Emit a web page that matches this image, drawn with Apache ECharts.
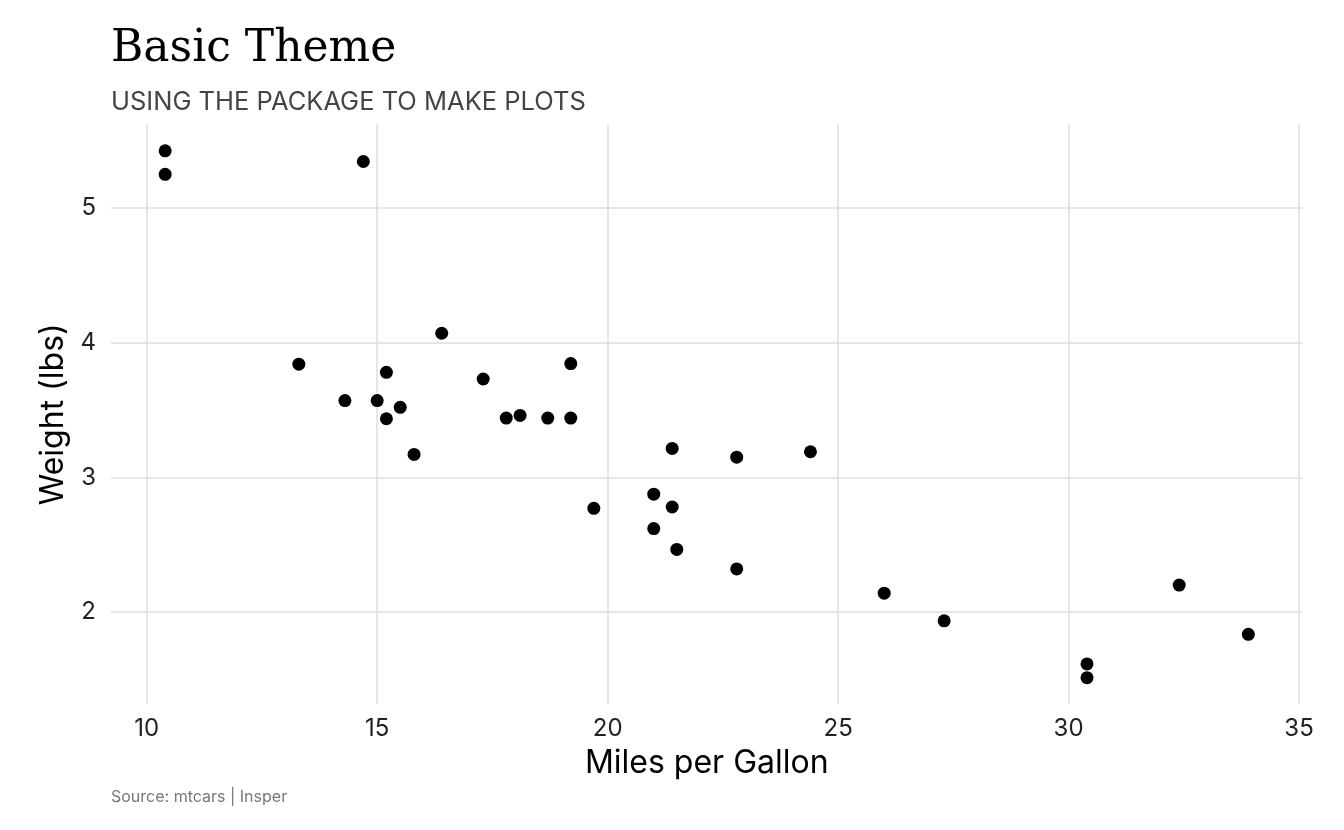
<!DOCTYPE html>
<html>
<head>
<meta charset="utf-8">
<title>Basic Theme</title>
<script src="https://cdn.jsdelivr.net/npm/echarts@6/dist/echarts.min.js"></script>
<style>
  html, body { margin: 0; padding: 0; background: #fff; }
  #chart { width: 1344px; height: 830px; }
</style>
</head>
<body>
<div id="chart"></div>
<script>
// mtcars: miles per gallon and weight (1000 lbs)
var mpg = [21.0, 21.0, 22.8, 21.4, 18.7, 18.1, 14.3, 24.4, 22.8, 19.2, 17.8,
           16.4, 17.3, 15.2, 10.4, 10.4, 14.7, 32.4, 30.4, 33.9, 21.5, 15.5,
           15.2, 13.3, 19.2, 27.3, 26.0, 30.4, 15.8, 19.7, 15.0, 21.4];
var wt = [2.620, 2.875, 2.320, 3.215, 3.440, 3.460, 3.570, 3.190, 3.150, 3.440, 3.440,
          4.070, 3.730, 3.780, 5.250, 5.424, 5.345, 2.200, 1.615, 1.835, 2.465, 3.520,
          3.435, 3.840, 3.845, 1.935, 2.140, 1.513, 3.170, 2.770, 3.570, 2.780];

var points = mpg.map(function (m, i) { return [m, wt[i]]; });

// ggplot-style 5% padding around the data range
function padded(values) {
  var lo = Math.min.apply(null, values), hi = Math.max.apply(null, values);
  var pad = (hi - lo) * 0.05;
  return [lo - pad, hi + pad];
}
var xr = padded(mpg), yr = padded(wt);

var font = 'Inter';
var gridLine = { show: true, showMinLine: false, showMaxLine: false,
                 lineStyle: { color: '#dedede', width: 1.5 } };

var option = {
  backgroundColor: '#fff',
  animation: false,
  title: [{
    text: 'Basic Theme',
    left: 111, top: 28, padding: 0,
    textStyle: { fontFamily: 'DejaVu Serif', fontSize: 44, fontWeight: 'normal', color: '#000' }
  }, {
    text: 'USING THE PACKAGE TO MAKE PLOTS',
    left: 111, top: 89, padding: 0,
    textStyle: { fontFamily: font, fontSize: 25.5, fontWeight: 'normal', color: '#444' }
  }, {
    text: 'Source: mtcars | Insper',
    left: 111, top: 789, padding: 0,
    textStyle: { fontFamily: font, fontSize: 16, fontWeight: 'normal', color: '#777' }
  }],
  grid: { left: 111, right: 41.5, top: 124.5, bottom: 126, containLabel: false },
  xAxis: {
    type: 'value',
    min: xr[0], max: xr[1],
    name: 'Miles per Gallon',
    nameLocation: 'middle',
    nameGap: 43,
    nameTextStyle: { fontFamily: font, fontSize: 32, color: '#000' },
    axisLine: { show: false },
    axisTick: { show: false },
    axisLabel: { fontFamily: font, fontSize: 24, color: '#222', margin: 13,
                 showMinLabel: false, showMaxLabel: false },
    splitLine: gridLine
  },
  yAxis: {
    type: 'value',
    min: yr[0], max: yr[1],
    name: 'Weight (lbs)',
    nameLocation: 'middle',
    nameGap: 39,
    nameTextStyle: { fontFamily: font, fontSize: 32, color: '#000' },
    axisLine: { show: false },
    axisTick: { show: false },
    axisLabel: { fontFamily: font, fontSize: 24, color: '#222', margin: 15,
                 showMinLabel: false, showMaxLabel: false },
    splitLine: gridLine
  },
  series: [{
    type: 'scatter',
    data: points,
    symbol: 'circle',
    symbolSize: 13,
    itemStyle: { color: '#000', opacity: 1 }
  }]
};

var myChart = echarts.init(document.getElementById('chart'));
myChart.setOption(option);
</script>
</body>
</html>
